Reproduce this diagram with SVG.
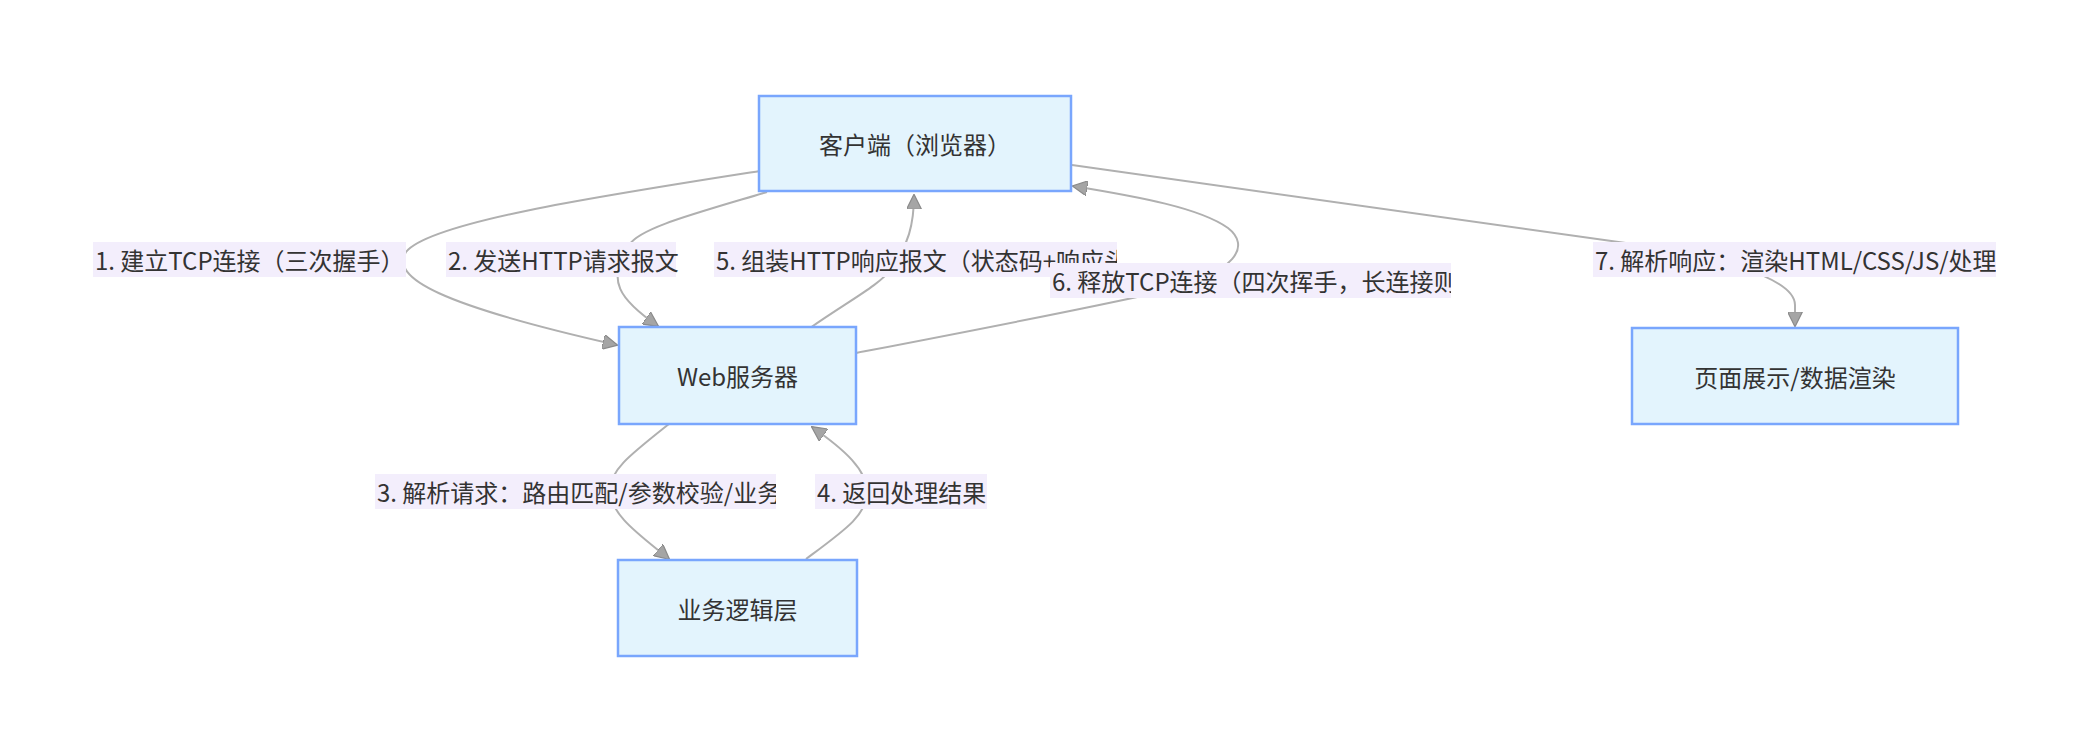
<svg xmlns="http://www.w3.org/2000/svg" width="2091" height="752" viewBox="0 0 2091 752">
<style>
.node rect{fill:#e3f4fd;stroke:#79a6fd;stroke-width:2.5}
.node text{font-family:"Noto Sans CJK SC","Liberation Sans",sans-serif;font-size:24px;fill:#333;text-anchor:middle;dominant-baseline:central}
.edge{fill:none;stroke:#b0b0b0;stroke-width:2;marker-end:url(#arr)}
.lbl rect{fill:#f3eefc}
.lbl text{font-family:"Noto Sans CJK SC","Liberation Sans",sans-serif;font-size:24px;fill:#333;dominant-baseline:central}
</style>
<defs>
<marker id="arr" viewBox="0 0 10 10" refX="9.5" refY="5" markerWidth="15" markerHeight="15" markerUnits="userSpaceOnUse" orient="auto">
<path d="M0,0 L10,5 L0,10 z" fill="#a5a5a5" stroke="#8a8a8a" stroke-width="0.8"/>
</marker>
<clipPath id="c5"><rect x="714" y="242" width="403" height="35"/></clipPath>
<clipPath id="c6"><rect x="1050" y="263" width="401" height="35"/></clipPath>
<clipPath id="c7"><rect x="1593" y="242" width="403" height="35"/></clipPath>
<clipPath id="c3"><rect x="375" y="474" width="401" height="35"/></clipPath>
</defs>
<rect width="2091" height="752" fill="#fff"/>
<g id="connectors">
<path class="edge" d="M760,171 C600,196 430,222 406,252 C390,278 440,305 617,345"/>
<path class="edge" d="M767,192 C690,215 640,228 629,245 C605,280 620,300 658,326"/>
<path class="edge" d="M810,328 C850,300 880,285 892,268 C908,245 914,225 914,195"/>
<path class="edge" d="M856,353 C960,333 1080,310 1160,292 C1240,272 1250,245 1228,228 C1200,208 1140,197 1073,186"/>
<path class="edge" d="M1072,165 L1640,245 C1700,254 1795,275 1795,305 L1795,326"/>
<path class="edge" d="M669,424 C630,455 610,470 610,490 C610,515 640,535 669,559"/>
<path class="edge" d="M806,559 C845,530 867,515 867,492 C867,470 845,450 812,427"/>
</g>
<g id="labels">
<g class="lbl" id="l1"><rect x="93" y="242" width="313" height="35"/><text x="95" y="259.5">1. 建立TCP连接（三次握手）</text></g>
<g class="lbl" id="l2"><rect x="446" y="242" width="230" height="35"/><text x="448" y="259.5">2. 发送HTTP请求报文</text></g>
<g class="lbl" id="l5"><rect x="714" y="242" width="403" height="35"/><text x="716" y="259.5" clip-path="url(#c5)">5. 组装HTTP响应报文（状态码+响应头</text></g>
<g class="lbl" id="l6"><rect x="1050" y="263" width="401" height="35"/><text x="1052" y="280.5" clip-path="url(#c6)">6. 释放TCP连接（四次挥手，长连接则</text></g>
<g class="lbl" id="l7"><rect x="1593" y="242" width="403" height="35"/><text x="1595" y="259.5" clip-path="url(#c7)">7. 解析响应：渲染HTML/CSS/JS/处理</text></g>
<g class="lbl" id="l3"><rect x="375" y="474" width="401" height="35"/><text x="377" y="491.5" clip-path="url(#c3)">3. 解析请求：路由匹配/参数校验/业务</text></g>
<g class="lbl" id="l4"><rect x="815" y="474" width="172" height="35"/><text x="817" y="491.5">4. 返回处理结果</text></g>
</g>
<g class="node" id="client"><rect x="759" y="96" width="312" height="95"/><text x="915" y="143.5">客户端（浏览器）</text></g>
<g class="node" id="web"><rect x="619" y="327" width="237" height="97"/><text x="737.5" y="375.5">Web服务器</text></g>
<g class="node" id="logic"><rect x="618" y="560" width="239" height="96"/><text x="737.5" y="608">业务逻辑层</text></g>
<g class="node" id="page"><rect x="1632" y="328" width="326" height="96"/><text x="1795" y="376">页面展示/数据渲染</text></g>
</svg>
